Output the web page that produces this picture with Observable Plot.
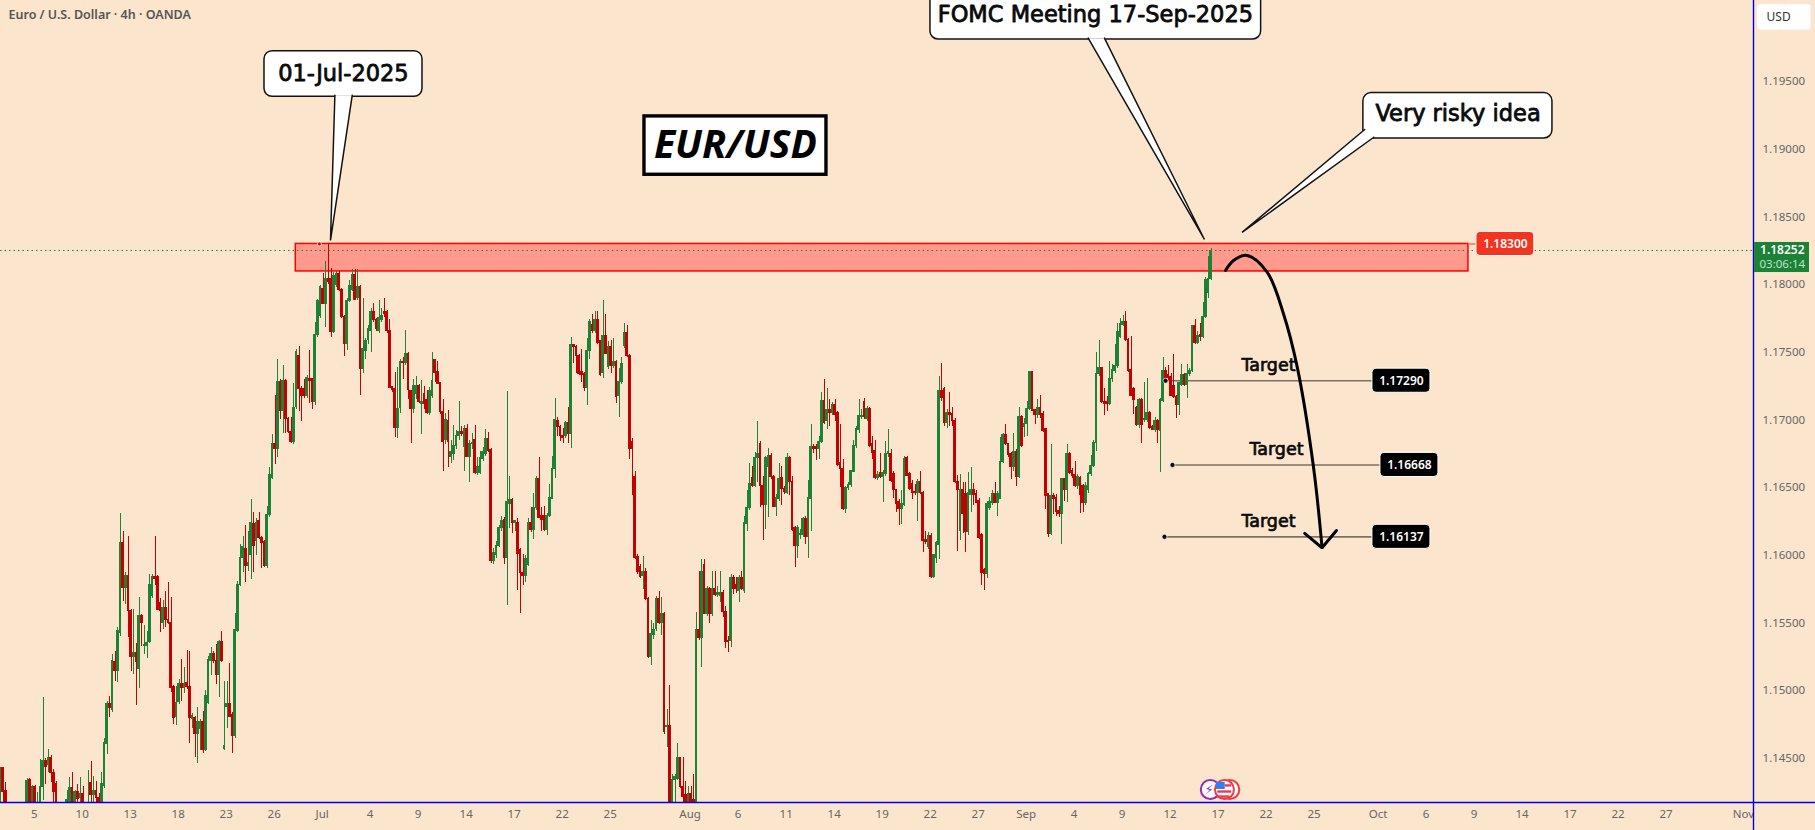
<!DOCTYPE html>
<html>
<head>
<meta charset="utf-8">
<script src="https://cdn.jsdelivr.net/npm/d3@7"></script>
<script src="https://cdn.jsdelivr.net/npm/@observablehq/plot@0.6"></script>
<style>
html,body{margin:0;padding:0;background:#FCE5CD;overflow:hidden}
svg{display:block}
</style>
</head>
<body>
<div id="chart"></div>
<script>
// Each row: bar number, open, high, low, close (prices in pips, 11825 = 1.1825)
const juneBars = [
[0,11410,11443,11405,11443],[1,11443,11443,11410,11425],[2,11426,11432,11405,11410],[3,11412,11412,11405,11408],
[10,11405,11435,11400,11433],[11,11434,11435,11405,11408],[12,11408,11430,11405,11429],[13,11429,11430,11405,11410],[14,11405,11425,11400,11410],
[15,11410,11449,11405,11429],[16,11429,11495,11419,11448],[17,11448,11450,11431,11444],[18,11445,11457,11440,11450],[19,11450,11452,11432,11439],
[20,11439,11442,11405,11425],[21,11431,11433,11405,11408],[25,11410,11426,11405,11419],[26,11415,11436,11405,11428],[27,11428,11440,11405,11412],
[28,11412,11426,11405,11425],[29,11425,11431,11412,11420],[30,11421,11436,11412,11424],[31,11424,11429,11405,11410],[33,11408,11441,11400,11416],
[34,11432,11448,11410,11423],[35,11423,11437,11412,11426],[36,11426,11433,11412,11421],[37,11421,11424,11405,11410],[38,11410,11440,11405,11431],
[39,11430,11465,11428,11461],[40,11461,11492,11453,11490],[41,11490,11496,11480,11487],[42,11486,11527,11484,11522],[43,11521,11529,11507,11515],
[44,11515,11547,11506,11544],[45,11543,11631,11540,11609],[46,11609,11618,11566,11576],[47,11576,11587,11564,11585],[48,11585,11614,11539,11559],
[49,11559,11560,11514,11525],[50,11525,11560,11512,11528],[51,11528,11535,11489,11521],[52,11516,11569,11502,11555],[53,11555,11556,11533,11550],
[54,11533,11548,11527,11534],[55,11533,11544,11524,11535],[56,11536,11586,11535,11578],[57,11570,11586,11568,11584],[58,11584,11614,11578,11583],
[59,11584,11585,11559,11560],[60,11565,11568,11543,11559],[61,11550,11567,11545,11561],[62,11561,11573,11547,11552],[63,11552,11580,11549,11550],
[64,11550,11569,11499,11502],[65,11503,11504,11475,11480],[66,11481,11503,11474,11491],[67,11492,11508,11490,11505],[68,11505,11523,11492,11502],
[69,11502,11517,11498,11505],[70,11506,11530,11501,11503],[71,11503,11529,11461,11480],[72,11479,11483,11472,11481],[73,11480,11481,11451,11468],
[74,11468,11488,11446,11477],[75,11472,11479,11456,11477],[76,11477,11485,11454,11456],[77,11456,11500,11455,11496],[78,11491,11525,11490,11523],
[79,11522,11532,11511,11527],[80,11527,11529,11520,11522],[81,11522,11534,11505,11512],[82,11512,11537,11495,11536],[83,11536,11544,11521,11522],
[84,11457,11507,11456,11459],[85,11488,11507,11472,11490],[86,11490,11520,11480,11481],[87,11482,11484,11454,11467],[88,11467,11557,11465,11545],
[89,11544,11581,11543,11578],[90,11578,11608,11577,11598],[91,11598,11614,11587,11606],[92,11605,11622,11580,11592],[93,11592,11618,11588,11594],
[94,11600,11641,11582,11624],[95,11623,11632,11587,11607],[96,11611,11627,11600,11624],[97,11625,11632,11612,11613],[98,11613,11614,11590,11609],
[99,11610,11611,11591,11592],[100,11592,11636,11590,11630],[101,11630,11665,11628,11659],[102,11657,11689,11656,11682],[103,11682,11718,11667,11679],
[104,11679,11745,11672,11728],[105,11728,11730,11700,11707],[106,11707,11740,11690,11729],[107,11729,11730,11690,11701],[108,11701,11702,11690,11691],
[109,11691,11702,11683,11684],[110,11684,11727,11682,11709],[111,11710,11752,11708,11750],[112,11747,11754,11706,11723],[113,11723,11725,11699,11718],
[114,11723,11730,11716,11718],[115,11718,11733,11716,11731],[116,11730,11751,11712,11729],[117,11730,11731,11708,11713],[118,11713,11772,11711,11763],
[119,11763,11789,11761,11788],[120,11777,11799,11775,11798]
];
const julyBars = [
[121,11797,11808,11785,11786],[122,11786,11817,11768,11804],[123,11804,11830,11800,11802],[124,11804,11812,11761,11765],[125,11765,11809,11764,11806],
[126,11800,11810,11798,11808],[127,11808,11810,11795,11796],[128,11796,11797,11775,11776],[129,11776,11777,11747,11756],[130,11756,11790,11751,11788],
[131,11788,11803,11787,11799],[132,11796,11811,11795,11807],[133,11807,11811,11788,11789],[134,11790,11811,11788,11798],[135,11798,11799,11718,11738],
[136,11738,11790,11734,11752],[137,11751,11760,11745,11758],[138,11759,11770,11756,11767],[139,11766,11782,11750,11780],[140,11780,11786,11772,11774],
[141,11774,11775,11765,11767],[142,11766,11788,11764,11775],[143,11774,11782,11772,11777],[144,11780,11790,11776,11778],[145,11780,11781,11764,11766],
[146,11766,11774,11723,11724],[147,11724,11725,11720,11722],[148,11723,11735,11687,11694],[149,11694,11739,11686,11708],[150,11709,11745,11705,11743],
[151,11743,11746,11730,11742],[152,11742,11766,11740,11749],[153,11749,11750,11715,11722],[154,11721,11722,11683,11708],[155,11708,11730,11705,11725],
[156,11719,11732,11715,11725],[157,11725,11726,11712,11713],[158,11712,11729,11689,11713],[159,11719,11725,11708,11712],[160,11715,11722,11704,11705],
[161,11705,11724,11703,11721],[162,11718,11750,11716,11729],[163,11744,11745,11728,11735],[164,11735,11743,11726,11727],[165,11727,11728,11704,11706],
[166,11706,11715,11662,11684],[167,11685,11705,11682,11700],[168,11699,11707,11665,11684],[169,11673,11685,11668,11676],[170,11675,11696,11670,11681],
[171,11681,11692,11678,11688],[172,11688,11714,11685,11691],[173,11691,11695,11688,11690],[174,11680,11696,11662,11693],[175,11693,11697,11672,11673],
[176,11673,11685,11654,11682],[177,11682,11690,11678,11683],[178,11685,11696,11660,11661],[179,11661,11672,11659,11665],[180,11661,11677,11660,11672],
[181,11671,11680,11669,11676],[182,11675,11693,11673,11686],[183,11686,11691,11676,11677],[184,11678,11679,11594,11596],[185,11596,11605,11593,11602],
[186,11600,11610,11598,11607],[187,11607,11622,11606,11620],[188,11620,11629,11618,11625],[189,11626,11628,11593,11598],[190,11598,11721,11563,11639],
[191,11638,11658,11620,11641],[192,11641,11642,11616,11624],[193,11624,11626,11618,11625],[194,11624,11627,11574,11601],[195,11604,11605,11557,11587],
[196,11587,11601,11578,11585],[197,11585,11600,11580,11597],[198,11593,11627,11592,11624],[199,11624,11635,11617,11619],[200,11619,11646,11612,11635],
[201,11635,11658,11633,11656],[202,11656,11672,11627,11628],[203,11629,11635,11618,11626],[204,11629,11636,11618,11619],[205,11619,11631,11615,11629],
[206,11629,11652,11628,11642],[207,11642,11673,11641,11664],[208,11664,11716,11657,11700],[209,11699,11702,11688,11695],[210,11695,11696,11684,11688],
[211,11688,11694,11683,11687],[212,11688,11699,11686,11698],[213,11698,11709,11683,11690],[214,11690,11761,11679,11755],[215,11755,11756,11742,11754],
[216,11754,11755,11734,11747],[217,11747,11748,11733,11734],[218,11735,11752,11728,11733],[219,11734,11735,11721,11724],[220,11724,11760,11711,11751],
[221,11751,11774,11745,11772],[222,11770,11778,11764,11766],[223,11766,11780,11764,11774],[224,11774,11780,11756,11757],[225,11758,11759,11732,11733],
[226,11735,11788,11731,11762],[227,11762,11778,11748,11749],[228,11739,11758,11737,11754],[229,11754,11759,11734,11740],[230,11740,11760,11738,11743],
[231,11743,11744,11712,11717],[232,11718,11738,11702,11728],[233,11728,11746,11726,11741],[234,11755,11771,11753,11764],[235,11764,11770,11746,11747],
[236,11747,11748,11671,11679],[237,11684,11686,11644,11679],[238,11658,11662,11597,11598],[239,11599,11601,11586,11588],[240,11591,11593,11583,11584],
[241,11585,11599,11575,11588],[242,11588,11590,11567,11568],[243,11568,11569,11524,11525],[244,11525,11552,11519,11542],[245,11541,11550,11538,11545],
[246,11546,11570,11544,11568],[247,11568,11573,11549,11550],[248,11550,11569,11541,11557],[249,11557,11558,11468,11470],[250,11473,11486,11458,11474],
[251,11474,11504,11405,11410],[252,11410,11438,11405,11434],[253,11434,11438,11410,11436],[254,11435,11461,11434,11450],[255,11450,11451,11428,11429],
[256,11429,11451,11410,11422],[257,11423,11433,11405,11412],[258,11412,11429,11405,11424]
];
const augustBars = [
[259,11424,11429,11405,11415],[260,11419,11438,11405,11415],[261,11415,11558,11405,11545],[262,11545,11588,11537,11539],[263,11539,11597,11517,11588],
[264,11593,11597,11556,11557],[265,11557,11577,11555,11575],[266,11575,11576,11550,11557],[267,11557,11588,11555,11575],[268,11575,11588,11570,11571],
[269,11571,11577,11569,11572],[270,11570,11588,11565,11572],[271,11572,11574,11554,11558],[272,11558,11562,11531,11536],[273,11537,11540,11528,11536],
[274,11537,11586,11532,11583],[275,11583,11585,11571,11575],[276,11578,11584,11572,11575],[277,11574,11585,11565,11583],[278,11583,11588,11574,11575],
[279,11574,11629,11572,11624],[280,11623,11648,11618,11635],[281,11635,11668,11633,11653],[282,11657,11666,11650,11651],[283,11651,11676,11650,11672],
[284,11672,11699,11654,11675],[285,11682,11684,11635,11651],[286,11651,11658,11611,11637],[287,11637,11673,11619,11672],[288,11665,11679,11628,11673],
[289,11673,11675,11656,11658],[290,11658,11659,11635,11636],[291,11636,11645,11629,11642],[292,11642,11668,11640,11656],[293,11657,11666,11637,11649],
[294,11649,11651,11645,11647],[295,11646,11675,11645,11672],[296,11672,11673,11644,11654],[297,11654,11658,11618,11619],[298,11620,11621,11591,11607],
[299,11607,11622,11598,11620],[300,11615,11619,11612,11616],[301,11615,11628,11613,11627],[302,11627,11629,11608,11614],[303,11614,11655,11598,11642],
[304,11642,11697,11618,11680],[305,11680,11682,11675,11679],[306,11680,11682,11670,11679],[307,11679,11688,11671,11684],[308,11684,11720,11683,11714],
[309,11714,11730,11697,11698],[310,11699,11723,11693,11707],[311,11707,11715,11695,11705],[312,11705,11713,11703,11711],[313,11711,11715,11699,11704],
[314,11705,11706,11666,11667],[315,11668,11697,11650,11664],[316,11664,11671,11633,11634],[317,11634,11651,11631,11650],[318,11650,11654,11648,11652],
[319,11652,11663,11650,11662],[320,11662,11685,11661,11681],[321,11681,11695,11679,11693],[322,11693,11715,11690,11703],[323,11702,11708,11700,11703],
[324,11713,11716,11700,11702],[325,11701,11710,11699,11708],[326,11708,11709,11680,11681],[327,11682,11688,11671,11676],[328,11677,11685,11656,11657],
[329,11657,11662,11655,11659],[330,11661,11675,11657,11658],[331,11658,11663,11639,11661],[332,11660,11684,11658,11675],[333,11675,11693,11672,11676],
[334,11675,11678,11654,11655],[335,11660,11662,11642,11648],[336,11648,11649,11632,11638],[337,11639,11641,11622,11634],[338,11634,11648,11623,11638],
[339,11637,11673,11636,11671],[340,11672,11673,11658,11659],[341,11660,11661,11648,11649],[342,11653,11655,11641,11646],[343,11647,11652,11644,11646],
[344,11646,11656,11625,11654],[345,11654,11662,11645,11646],[346,11646,11647,11602,11611],[347,11611,11618,11608,11610],[348,11606,11617,11604,11614],
[349,11614,11616,11583,11584],[350,11584,11601,11583,11600],[351,11598,11610,11594,11609],[352,11608,11732,11597,11721],[353,11721,11742,11714,11716],
[354,11723,11724,11695,11698],[355,11698,11708,11694,11705],[356,11705,11720,11695,11704],[357,11704,11709,11695,11699],[358,11699,11701,11653,11654],
[359,11654,11659,11603,11648],[360,11618,11660,11611,11648],[361,11648,11654,11616,11631],[362,11645,11654,11602,11617],[363,11617,11661,11615,11646],
[364,11645,11665,11632,11648],[365,11648,11653,11637,11645],[366,11645,11648,11638,11639],[367,11640,11642,11612,11613],[368,11615,11616,11578,11587],
[369,11589,11590,11574,11586],[370,11586,11640,11583,11638],[371,11635,11643,11633,11639],[372,11639,11648,11637,11645],[373,11645,11654,11638,11639],
[374,11639,11647,11629,11645],[375,11642,11687,11641,11669],[376,11669,11690,11668,11689],[377,11689,11697,11681,11682],[378,11682,11683,11672,11674],
[379,11675,11676,11656,11665],[380,11665,11690,11662,11676],[381,11676,11678,11651,11658],[382,11658,11709,11657,11702],[383,11702,11703,11680,11681],
[384,11695,11701,11687,11697]
];
const septemberBars = [
[385,11697,11714,11688,11708],[386,11708,11736,11707,11735],[387,11735,11736,11706,11707],[388,11707,11708,11697,11704],[389,11704,11715,11701,11709],
[390,11709,11718,11701,11704],[391,11704,11706,11691,11692],[392,11693,11694,11634,11644],[393,11645,11646,11613,11616],[394,11616,11682,11615,11644],
[395,11644,11646,11630,11642],[396,11642,11645,11629,11632],[397,11633,11636,11628,11631],[398,11631,11657,11608,11656],[399,11656,11657,11640,11648],
[400,11648,11682,11639,11675],[401,11675,11676,11660,11661],[402,11662,11664,11657,11659],[403,11659,11669,11650,11651],[404,11651,11660,11649,11658],
[405,11657,11658,11631,11645],[406,11651,11652,11632,11639],[407,11639,11654,11637,11651],[408,11648,11661,11646,11660],[409,11660,11674,11658,11666],
[410,11666,11685,11665,11683],[411,11683,11750,11677,11734],[412,11734,11759,11732,11738],[413,11738,11739,11712,11713],[414,11713,11723,11703,11712],
[415,11713,11717,11706,11712],[416,11712,11743,11711,11730],[417,11730,11741,11728,11737],[418,11736,11756,11734,11740],[419,11740,11771,11738,11765],
[420,11761,11775,11760,11771],[421,11770,11777,11769,11772],[422,11772,11780,11758,11759],[423,11759,11760,11735,11736],[424,11737,11762,11717,11718],
[425,11723,11724,11704,11715],[426,11709,11710,11695,11696],[427,11696,11716,11694,11715],[428,11715,11716,11683,11696],[429,11700,11728,11698,11701],
[430,11700,11731,11698,11705],[431,11705,11706,11693,11694],[432,11695,11696,11692,11693],[433,11693,11702,11691,11699],[434,11699,11700,11683,11693],
[435,11692,11716,11661,11715],[436,11714,11746,11713,11736],[437,11736,11739,11727,11728],[438,11733,11740,11729,11731],[439,11732,11734,11717,11718],
[440,11725,11748,11716,11717],[441,11717,11718,11701,11711],[442,11711,11728,11703,11727],[443,11726,11741,11725,11733],[444,11733,11734,11725,11726],
[445,11726,11741,11716,11734],[446,11734,11738,11732,11736],[447,11736,11770,11735,11769],[448,11769,11774,11756,11757],[449,11757,11765,11756,11762],
[450,11763,11771,11758,11761],[451,11761,11787,11760,11776],[452,11776,11805,11775,11803],[453,11794,11821,11790,11804],[454,11804,11827,11803,11825]
];

// Axes
const tickBars = [13,31,49,67,85,103,121,139,157,175,193,211,229,259,277,295,313,331,349,367,385,403,421,439,457,475,493,517,535,553,571,589,607,625,654];
const tickLabels = ["5","10","13","18","23","26","Jul","4","9","14","17","22","25","Aug","6","11","14","19","22","27","Sep","4","9","12","17","22","25","Oct","6","9","14","17","22","27","Nov"];
const priceTicks = [1.145,1.15,1.155,1.16,1.165,1.17,1.175,1.18,1.185,1.19,1.195];

// Levels and annotations (bar number, price)
const lastPrice = 1.18252;
const zone = [{x1:110.75,x2:550.5,y1:1.18097,y2:1.183}];
const targetLevels = [
  {price:1.1729, start:436.9, end:514.5, tagEnd:536.25, text:"1.17290"},
  {price:1.16668,start:439.5, end:517.5, tagEnd:539.25, text:"1.16668"},
  {price:1.16137,start:436.5, end:514.5, tagEnd:536.25, text:"1.16137"}
];
const targetWords = [
  {x:475.5,y:1.17402,t:"Target"},{x:478.5,y:1.16782,t:"Target"},{x:475.5,y:1.1625,t:"Target"}
];
const arrowCurve = [[459.4,1.18104],[462.4,1.18178],[467.5,1.18215],[475,1.18092],[481.1,1.17787],[486.3,1.1739],[492.4,1.16651],[495.6,1.16058]];
const arrowHead = [[489.1,1.16162],[495.6,1.16056],[501,1.16184]];
const callouts = [
  {x1:99,x2:158.25,y1:1.19387,y2:1.19724,tx:128.6,ty:1.19555,t:"01-Jul-2025",tail:[[125.4,1.19398],[123.75,1.18326],[131.9,1.19398]]},
  {x1:348.75,x2:472.75,y1:1.1981,y2:1.2016,tx:410.6,ty:1.19995,t:"FOMC Meeting 17-Sep-2025",tail:[[407.9,1.1982],[451.5,1.18333],[414,1.1982]]},
  {x1:511.1,x2:582,y1:1.19079,y2:1.19414,tx:546.6,ty:1.1926,t:"Very risky idea",tail:[[511.6,1.19145],[465.6,1.18385],[515,1.19088]]}
];

const toRow = ([bar,o,h,l,c]) => ({bar, open:o/1e4, high:h/1e4, low:l/1e4, close:c/1e4});
const candles = [...juneBars,...julyBars,...augustBars,...septemberBars].map(toRow);
const up = candles.filter(d => d.close >= d.open);
const down = candles.filter(d => d.close < d.open);

const GREEN = "#1B8236", RED = "#C40000", BLUE = "#0000E6", UI = "DejaVu Sans", AXIS = "Noto Sans";

function candleMarks(rows, color) {
  return [
    Plot.ruleX(rows,{x:"bar",y1:"low",y2:"high",stroke:color,strokeWidth:1,clip:true,shapeRendering:"crispEdges"}),
    Plot.rect(rows,{x1:d=>d.bar-0.52,x2:d=>d.bar+0.52,y1:"open",y2:"close",fill:color,insetTop:-0.6,insetBottom:-0.6,clip:true,shapeRendering:"crispEdges"})
  ];
}
function calloutMarks(c) {
  return [
    Plot.rect([c],{x1:"x1",x2:"x2",y1:"y1",y2:"y2",fill:"white",stroke:"#131313",strokeWidth:1.5,rx:8}),
    Plot.line(c.tail,{fill:"white",stroke:"#131313",strokeWidth:1.5,strokeLinejoin:"miter"}),
    Plot.text([c],{x:"tx",y:"ty",text:"t",fontFamily:UI,fontSize:22.5,fill:"#0a0a0a",stroke:"#0a0a0a",strokeWidth:0.8})
  ];
}
function tag(x1,x2,y,text,fill,stroke) {
  return [
    Plot.rect([{x1,x2,y1:y-0.00089,y2:y+0.00089}],{x1:"x1",x2:"x2",y1:"y1",y2:"y2",fill,stroke:stroke||"white",strokeWidth:1,rx:4}),
    Plot.text([{x:(x1+x2)/2,y,t:text}],{x:"x",y:"y",text:"t",fill:"white",fontFamily:AXIS,fontWeight:600,fontSize:12})
  ];
}

const chart = Plot.plot({
  width:1815, height:830,
  marginLeft:0, marginRight:62, marginTop:0, marginBottom:28,
  style:{background:"#FCE5CD",overflow:"hidden"},
  x:{domain:[0,657.4],range:[0,1753]},
  y:{domain:[1.14175,1.20098],range:[802,0]},
  marks:[
    Plot.axisX({ticks:tickBars,tickFormat:d=>tickLabels[tickBars.indexOf(d)],tickSize:0,tickPadding:7,dx:-1,fontSize:11.5,fill:"#666",label:null,fontFamily:AXIS}),
    Plot.axisY({anchor:"right",ticks:priceTicks,tickFormat:d3.format(".5f"),tickSize:0,tickPadding:9,fontSize:11.5,fill:"#666",label:null,fontFamily:AXIS}),

    // zone and price lines
    Plot.rect(zone,{x1:"x1",x2:"x2",y1:"y1",y2:"y2",fill:"#FF9A8C",stroke:"#FF0000",strokeWidth:1.5}),
    Plot.ruleY([1.183],{x1:550.5,x2:553.5,stroke:"#F0705F",strokeWidth:1.5}),
    Plot.ruleY(targetLevels,{y:"price",x1:"start",x2:"end",stroke:"#7D7064",strokeWidth:1.6}),

    ...candleMarks(up,GREEN),
    ...candleMarks(down,RED),

    Plot.ruleY([lastPrice],{x1:0,x2:657.4,stroke:GREEN,strokeWidth:1,strokeDasharray:"1.5,3"}),
    Plot.dot([[119.6,1.183]],{r:2,fill:"#E00000",stroke:"white",strokeWidth:0.7}),
    Plot.dot(targetLevels,{x:"start",y:"price",r:2.5,fill:"#000",stroke:"white",strokeWidth:0.7}),

    // title
    Plot.rect([{x1:241.5,x2:309.75,y1:1.18811,y2:1.19242}],{x1:"x1",x2:"x2",y1:"y1",y2:"y2",fill:"white",stroke:"#000",strokeWidth:3.4}),
    Plot.text([{x:275.6,y:1.19027,t:"EUR/USD"}],{x:"x",y:"y",text:"t",fontFamily:"Noto Sans",fontWeight:700,fontStyle:"italic",fontSize:39,fill:"#000"}),

    ...callouts.flatMap(calloutMarks),

    // targets
    Plot.text(targetWords,{x:"x",y:"y",text:"t",fontFamily:UI,fontSize:17.5,fill:"#0a0a0a",stroke:"#0a0a0a",strokeWidth:0.7}),
    ...targetLevels.flatMap(d=>tag(d.end,d.tagEnd,d.price,d.text,"#000")),

    // projected path
    Plot.line(arrowCurve,{curve:"catmull-rom",stroke:"#000",strokeWidth:3,strokeLinecap:"round"}),
    Plot.line(arrowHead,{stroke:"#000",strokeWidth:3,strokeLinejoin:"miter"}),

    // level tag
    ...tag(553.5,575.2,1.183,"1.18300","#F23420"),

    // frame lines
    Plot.ruleX([657.4],{y1:1.1396,y2:1.2012,stroke:BLUE,strokeWidth:1.4}),
    Plot.ruleY([1.14175],{x1:0,x2:681,stroke:BLUE,strokeWidth:1.4}),

    // current price tag
    Plot.rect([{x1:657.8,x2:678.4,y1:1.18089,y2:1.18311}],{x1:"x1",x2:"x2",y1:"y1",y2:"y2",fill:GREEN}),
    Plot.text([{x:668.2,y:1.18252,t:"1.18252"}],{x:"x",y:"y",text:"t",fill:"white",fontFamily:AXIS,fontWeight:600,fontSize:12}),
    Plot.text([{x:668.2,y:1.18148,t:"03:06:14"}],{x:"x",y:"y",text:"t",fill:"#BFE3C8",fontFamily:AXIS,fontSize:11.5}),

    // currency box
    Plot.rect([{x1:658.9,x2:679.1,y1:1.19877,y2:1.20069}],{x1:"x1",x2:"x2",y1:"y1",y2:"y2",fill:"white",stroke:"#F3EDE6",strokeWidth:1,rx:3}),
    Plot.text([{x:662.3,y:1.19973,t:"USD"}],{x:"x",y:"y",text:"t",textAnchor:"start",fill:"#333",fontFamily:AXIS,fontSize:12}),

    // event badges
    Plot.dot([[453.7,1.14271]],{r:9.5,fill:"white",stroke:"#9C27B0",strokeWidth:2}),
    Plot.text([{x:453.2,y:1.14271,t:"⚡"}],{x:"x",y:"y",text:"t",fill:"#9C27B0",fontFamily:UI,fontSize:13}),
    Plot.dot([[461,1.14271]],{r:9.5,fill:"white",stroke:"#F2394A",strokeWidth:2}),
    Plot.dot([[459,1.14271]],{r:9.5,fill:"white",stroke:"#F2394A",strokeWidth:2}),
    Plot.rect([{x1:456,x2:459.3,y1:1.14271,y2:1.14323}],{x1:"x1",x2:"x2",y1:"y1",y2:"y2",fill:"#2F80ED"}),
    Plot.ruleY([1.14301,1.14256,1.14219],{x1:d=>d===1.14301?459.3:456.5,x2:d=>d===1.14219?461:461.7,stroke:"#F2394A",strokeWidth:2.4}),

    // symbol line
    Plot.text(["Euro / U.S. Dollar · 4h · OANDA"],{frameAnchor:"top-left",dx:8,dy:10,fontFamily:AXIS,fontWeight:600,fontSize:12.5,fill:"#555"})
  ]
});
document.getElementById("chart").append(chart);
</script>
</body>
</html>
